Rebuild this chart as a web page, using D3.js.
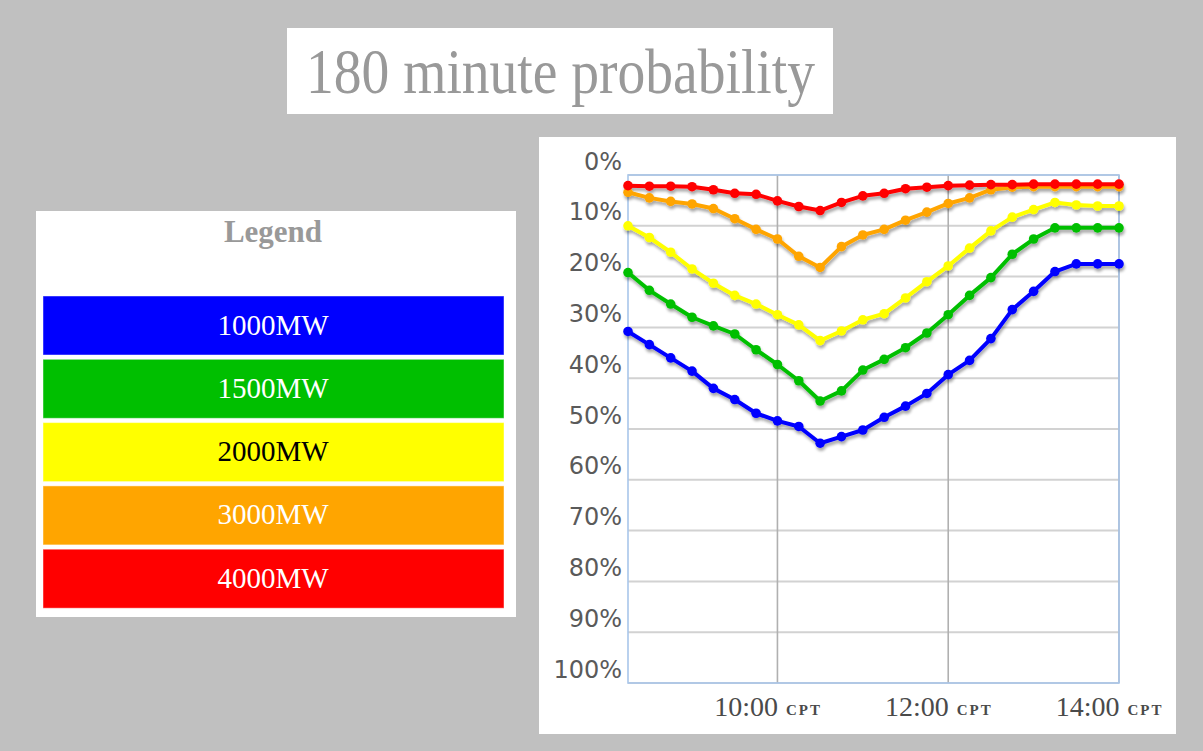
<!DOCTYPE html>
<html><head><meta charset="utf-8">
<script src="https://cdn.jsdelivr.net/npm/d3@7"></script>
<style>html,body{margin:0;padding:0;background:#c0c0c0;overflow:hidden}</style>
</head><body><svg id="c" width="1203" height="751"></svg>
<script>
// ---- data ----
const times = ["08:15","08:30","08:45","09:00","09:15","09:30","09:45","10:00",
               "10:15","10:30","10:45","11:00","11:15","11:30","11:45","12:00",
               "12:15","12:30","12:45","13:00","13:15","13:30","13:45","14:00"];
const seriesNames = ["1000MW","1500MW","2000MW","3000MW","4000MW"];
const seriesColors = ["#0000ff","#00bf00","#ffff00","#ffa500","#ff0000"];
const legendTextColors = ["#ffffff","#ffffff","#000000","#ffffff","#ffffff"];
const mw1000 = [30.8,33.4,36.0,38.6,42.0,44.2,46.9,48.4,49.5,52.8,51.5,50.2,47.7,45.5,43.0,39.3,36.5,32.2,26.5,22.9,19.0,17.5,17.5,17.5];
const mw1500 = [19.2,22.7,25.4,28.0,29.7,31.3,34.4,37.3,40.5,44.5,42.5,38.4,36.3,34.0,31.1,27.5,23.7,20.2,15.6,12.6,10.4,10.4,10.4,10.4];
const mw2000 = [10.0,12.3,15.2,18.5,21.3,23.7,25.4,27.5,29.5,32.6,30.7,28.5,27.3,24.2,21.0,17.9,14.4,11.0,8.3,6.8,5.4,5.9,6.1,6.1];
const mw3000 = [3.4,4.5,5.2,5.7,6.6,8.6,10.7,12.6,16.0,18.2,14.1,11.8,10.7,8.9,7.3,5.6,4.5,2.9,2.4,2.3,2.3,2.3,2.3,2.3];
const mw4000 = [2.1,2.2,2.2,2.3,2.9,3.6,3.8,5.1,6.2,7.0,5.4,4.1,3.6,2.7,2.4,2.1,2.0,1.9,1.9,1.8,1.8,1.8,1.8,1.8];
const seriesValues = [mw1000, mw1500, mw2000, mw3000, mw4000];
const yTicks = [0,10,20,30,40,50,60,70,80,90,100];
const xTicks = ["10:00","12:00","14:00"];
const tzLabel = "CPT";
const titleText = "180 minute probability";
const legendTitle = "Legend";

// ---- drawing ----
const svg = d3.select("#c");
const parse = d3.timeParse("%H:%M");
const defs = svg.append("defs");
const f = defs.append("filter").attr("id","sh").attr("filterUnits","userSpaceOnUse")
  .attr("x",0).attr("y",0).attr("width",1203).attr("height",751);
f.append("feGaussianBlur").attr("in","SourceAlpha").attr("stdDeviation",1.6).attr("result","b");
f.append("feOffset").attr("in","b").attr("dx",1).attr("dy",2.5).attr("result","o");
const ct = f.append("feComponentTransfer").attr("in","o").attr("result","s");
ct.append("feFuncA").attr("type","linear").attr("slope",0.35);
const fm = f.append("feMerge");
fm.append("feMergeNode").attr("in","s");
fm.append("feMergeNode").attr("in","SourceGraphic");

svg.append("rect").attr("width",1203).attr("height",751).attr("fill","#c0c0c0");

// title box
svg.append("rect").attr("x",287).attr("y",28).attr("width",546).attr("height",86).attr("fill","#fff");
svg.append("text").attr("x",306).attr("y",93).text(titleText)
  .attr("font-family","Liberation Serif, serif").attr("font-size",64).attr("fill","#999")
  .attr("textLength",509).attr("lengthAdjust","spacingAndGlyphs");

// legend box
svg.append("rect").attr("x",36).attr("y",211).attr("width",480).attr("height",406).attr("fill","#fff");
svg.append("text").attr("x",273).attr("y",242).attr("text-anchor","middle").text(legendTitle)
  .attr("font-family","Liberation Serif, serif").attr("font-weight","bold").attr("font-size",31).attr("fill","#999");
const lg = svg.append("g").selectAll("g").data(seriesNames).join("g")
  .attr("transform",(d,i)=>`translate(43,${296 + i*63.3})`);
lg.append("rect").attr("width",461).attr("height",59).attr("fill",(d,i)=>seriesColors[i])
  .attr("stroke","#fff").attr("stroke-opacity",0.45).attr("stroke-width",1);
lg.append("text").attr("x",230).attr("y",38.5).attr("text-anchor","middle").text(d=>d)
  .attr("font-family","Liberation Serif, serif").attr("font-size",29).attr("fill",(d,i)=>legendTextColors[i]);

// chart box
svg.append("rect").attr("x",539).attr("y",137).attr("width",637).attr("height",597).attr("fill","#fff");

const L=628, R=1119, T=175, B=683;
const x = d3.scaleTime().domain([parse(times[0]), parse(times[times.length-1])]).range([L,R]);
const y = d3.scaleLinear().domain([0,100]).range([T,B]);

// horizontal grid
svg.append("g").selectAll("line").data(yTicks).join("line")
  .attr("x1",L).attr("x2",R).attr("y1",d=>y(d)).attr("y2",d=>y(d))
  .attr("stroke","#d2d2d2").attr("stroke-width",2);
// vertical grid
svg.append("g").selectAll("line").data(xTicks.map(parse)).join("line")
  .attr("x1",d=>x(d)).attr("x2",d=>x(d)).attr("y1",T).attr("y2",B)
  .attr("stroke","#b0b0b0").attr("stroke-width",1.6);
// plot border
svg.append("rect").attr("x",L).attr("y",T).attr("width",R-L).attr("height",B-T)
  .attr("fill","none").attr("stroke","#a9c6ea").attr("stroke-width",1.6);

// y axis labels
const ya = svg.append("g").attr("transform",`translate(${L},0)`)
  .call(d3.axisLeft(y).tickValues(yTicks).tickFormat(d=>d+"%").tickSize(0).tickPadding(6));
ya.select(".domain").remove();
ya.selectAll("text").attr("font-family","DejaVu Sans, sans-serif").attr("font-size",24)
  .attr("fill","#5a5a5a").attr("dy",null).attr("y",-6);

// x axis labels
const xa = svg.append("g").attr("transform",`translate(0,${B})`)
  .call(d3.axisBottom(x).tickValues(xTicks.map(parse)).tickFormat(d3.timeFormat("%H:%M")).tickSize(0));
xa.select(".domain").remove();
xa.selectAll("text").attr("font-family","Liberation Serif, serif").attr("font-size",28)
  .attr("fill","#4a4a4a").attr("text-anchor","end").attr("x",0).attr("dy",null).attr("y",33);
xa.selectAll(".tick").append("text").text(tzLabel).attr("x",8).attr("y",32)
  .attr("font-family","Liberation Serif, serif").attr("font-weight","bold").attr("font-size",15)
  .attr("letter-spacing",2).attr("fill","#4a4a4a").attr("text-anchor","start");

// series
const line = d3.line().x((d,i)=>x(parse(times[i]))).y(d=>y(d));
const sg = svg.append("g").attr("filter","url(#sh)");
seriesValues.forEach((vals,k)=>{
  const g = sg.append("g");
  g.append("path").attr("d",line(vals)).attr("fill","none").attr("stroke",seriesColors[k])
    .attr("stroke-width",4).attr("stroke-linejoin","round");
  g.selectAll("circle").data(vals).join("circle")
    .attr("cx",(d,i)=>x(parse(times[i]))).attr("cy",d=>y(d)).attr("r",4.8).attr("fill",seriesColors[k]);
});
</script></body></html>
